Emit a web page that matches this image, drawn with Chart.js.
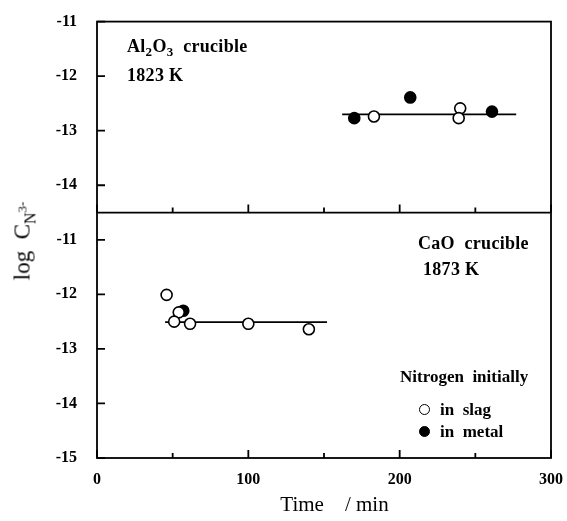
<!DOCTYPE html>
<html>
<head>
<meta charset="utf-8">
<script src="https://cdn.jsdelivr.net/npm/chart.js@4"></script>
<style>
    html, body { margin: 0; padding: 0; background: #fff; }
    #wrap { position: relative; width: 567px; height: 521px; }
    #wrap canvas { position: absolute; left: 0; top: 0; }
    .note {
        position: absolute;
        font-family: "Liberation Serif", serif;
        font-weight: bold;
        font-size: 17px;
        line-height: 17px;
        color: #000;
        white-space: pre;
    }
    .note.big { font-size: 18px; line-height: 18px; letter-spacing: 0.3px; }
    .note sub { font-size: 13px; vertical-align: -4px; line-height: 0; }
    .dot {
        position: absolute;
        width: 9px; height: 9px;
        border: 1.6px solid #000;
        border-radius: 50%;
        background: #fff;
    }
    .dot.filled { background: #000; }
    #ytitle {
        position: absolute;
        left: 22px; top: 241px;
        transform: translate(-50%, -50%) rotate(-90deg);
        font-family: "Liberation Serif", serif;
        font-size: 23px;
        line-height: 23px;
        white-space: pre;
        color: #000;
    }
    #ytitle sub { font-size: 16px; vertical-align: -6px; line-height: 0; }
    #ytitle sup { font-size: 13px; vertical-align: 9px; line-height: 0; }
</style>
</head>
<body>
<div id="wrap">
    <canvas id="chart" width="567" height="521"></canvas>

    <div class="note big" style="left:127px; top:37px;">Al<sub>2</sub>O<sub>3</sub>  crucible</div>
    <div class="note big" style="left:127px; top:66px;">1823 K</div>

    <div class="note big" style="left:418px; top:234px;">CaO  crucible</div>
    <div class="note big" style="left:423px; top:260px;">1873 K</div>

    <div class="note" style="left:400px; top:368px;">Nitrogen  initially</div>
    <span class="dot" style="left:419px; top:404px;"></span>
    <div class="note" style="left:440px; top:401px;">in  slag</div>
    <span class="dot filled" style="left:419px; top:426px;"></span>
    <div class="note" style="left:440px; top:423px;">in  metal</div>

    <div id="ytitle">log  C<sub>N<sup>3-</sup></sub></div>
</div>

<script>
// ======================================================
// Data
// ======================================================

// Al2O3 crucible, 1823 K (upper panel)
const alSlagTime  = [183, 240, 239];
const alSlagLog   = [-12.74, -12.59, -12.77];
const alMetalTime = [170, 207, 261];
const alMetalLog  = [-12.77, -12.39, -12.65];
const alFitTime   = [162, 277];
const alFitLog    = [-12.70, -12.70];

// CaO crucible, 1873 K (lower panel)
const caSlagTime  = [46, 54, 51, 61.5, 100, 140];
const caSlagLog   = [-12.01, -12.33, -12.50, -12.54, -12.54, -12.64];
const caMetalTime = [57];
const caMetalLog  = [-12.30];
const caFitTime   = [45, 152];
const caFitLog    = [-12.51, -12.51];

// Axis ticks
const timeTicks   = [0, 100, 200, 300];
const topLogTicks = [-14, -13, -12, -11];
const botLogTicks = [-15, -14, -13, -12, -11];

// ======================================================
// Helpers
// ======================================================

const pairs = (xs, ys) => xs.map((x, i) => ({ x: x, y: ys[i] }));

const tickFont = {
    family: "'Liberation Serif', serif",
    size: 16,
    weight: "bold"
};

function openSet(data, axis) {
    return {
        data: data,
        yAxisID: axis,
        pointRadius: 5.5,
        pointBorderWidth: 1.6,
        pointBackgroundColor: "#fff",
        pointBorderColor: "#000",
        showLine: false,
        order: 1
    };
}

function filledSet(data, axis) {
    return {
        data: data,
        yAxisID: axis,
        pointRadius: 5.5,
        pointBorderWidth: 1.6,
        pointBackgroundColor: "#000",
        pointBorderColor: "#000",
        showLine: false,
        order: 2
    };
}

function fitSet(data, axis) {
    return {
        data: data,
        yAxisID: axis,
        pointRadius: 0,
        borderColor: "#000",
        borderWidth: 1.6,
        showLine: true,
        fill: false,
        order: 3
    };
}

function logAxis(min, max, weight, ticks) {
    return {
        type: "linear",
        position: "left",
        stack: "panels",
        stackWeight: weight,
        min: min,
        max: max,
        grid: { display: false },
        border: { display: false },
        ticks: {
            color: "#000",
            font: tickFont,
            padding: 12
        },
        afterBuildTicks(scale) {
            scale.ticks = ticks.map(v => ({ value: v }));
        },
        afterFit(scale) {
            scale.width = 97;
        }
    };
}

// ======================================================
// Frame + inward tick marks
// ======================================================

const framePlugin = {

    id: "frame",

    afterDraw(chart) {

        const { ctx, chartArea: a } = chart;
        const x = chart.scales.x;
        const yTop = chart.scales.yTop;
        const yBot = chart.scales.yBot;

        ctx.save();
        ctx.strokeStyle = "#000";
        ctx.lineWidth = 1.8;

        ctx.strokeRect(a.left, a.top, a.right - a.left, a.bottom - a.top);

        const split = yTop.bottom;

        ctx.beginPath();
        ctx.moveTo(a.left, split);
        ctx.lineTo(a.right, split);

        // y ticks, both panels
        topLogTicks.forEach(v => {
            const py = yTop.getPixelForValue(v);
            ctx.moveTo(a.left, py);
            ctx.lineTo(a.left + 8, py);
        });

        botLogTicks.forEach(v => {
            const py = yBot.getPixelForValue(v);
            ctx.moveTo(a.left, py);
            ctx.lineTo(a.left + 8, py);
        });

        // x ticks on bottom of each panel
        const majors = timeTicks;
        const minors = timeTicks.slice(1).map((v, i) => (v + timeTicks[i]) / 2);

        [split, a.bottom].forEach(base => {
            majors.forEach(v => {
                const px = x.getPixelForValue(v);
                ctx.moveTo(px, base);
                ctx.lineTo(px, base - 8);
            });
            minors.forEach(v => {
                const px = x.getPixelForValue(v);
                ctx.moveTo(px, base);
                ctx.lineTo(px, base - 5);
            });
        });

        ctx.stroke();
        ctx.restore();
    }
};

// ======================================================
// Chart
// ======================================================

new Chart(
    document.getElementById("chart"),
    {
        type: "scatter",

        data: {
            datasets: [
                openSet(pairs(alSlagTime, alSlagLog), "yTop"),
                filledSet(pairs(alMetalTime, alMetalLog), "yTop"),
                fitSet(pairs(alFitTime, alFitLog), "yTop"),
                openSet(pairs(caSlagTime, caSlagLog), "yBot"),
                filledSet(pairs(caMetalTime, caMetalLog), "yBot"),
                fitSet(pairs(caFitTime, caFitLog), "yBot")
            ]
        },

        options: {

            responsive: false,
            animation: false,

            layout: {
                padding: { top: 18, right: 16, left: 0, bottom: 0 }
            },

            plugins: {
                legend: { display: false },
                tooltip: { enabled: false }
            },

            scales: {

                x: {
                    type: "linear",
                    min: 0,
                    max: 300,
                    grid: { display: false },
                    border: { display: false },
                    afterBuildTicks(scale) {
                        scale.ticks = timeTicks.map(v => ({ value: v }));
                    },
                    ticks: {
                        color: "#000",
                        font: tickFont,
                        padding: 4,
                        maxRotation: 0
                    },
                    title: {
                        display: true,
                        // leading spaces push the title a little right, as in the print
                        text: "    Time    / min",
                        color: "#000",
                        font: {
                            family: "'Liberation Serif', serif",
                            size: 21
                        },
                        padding: { top: 4, bottom: 3 }
                    },
                    afterFit(scale) {
                        scale.height = 63;
                    }
                },

                // stacked axes: the first one listed sits at the bottom
                yBot: logAxis(-15, -10.5, 4.5, botLogTicks),

                yTop: logAxis(-14.5, -11, 3.5, topLogTicks)
            }
        },

        plugins: [framePlugin]
    }
);
</script>
</body>
</html>
